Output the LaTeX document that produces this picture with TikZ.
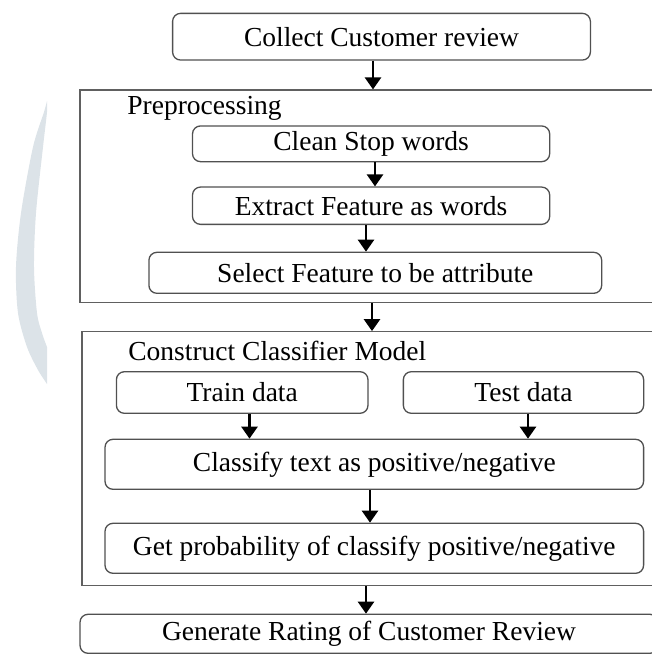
\documentclass[tikz,border=0pt]{standalone}
\usepackage{fontspec}
\setmainfont{Liberation Serif}
\usetikzlibrary{arrows.meta}
\definecolor{wmark}{HTML}{DCE3E8}
\definecolor{boxline}{HTML}{505050}
\definecolor{frameline}{HTML}{606060}
\tikzset{
  txt/.style={font=\fontsize{13.75}{16}\selectfont},
  box/.style={draw=boxline, line width=0.65pt, rounded corners=4pt, inner sep=0pt, txt},
  frame/.style={draw=frameline, line width=0.6pt},
  arr/.style={line width=1.3pt, -{Triangle[width=8pt,length=6pt]}},
}
\begin{document}
\begin{tikzpicture}[x=0.5pt,y=-0.5pt]
\useasboundingbox (0,0) rectangle (652,655);
\clip (0,0) rectangle (652,655);
% watermark crescent
\fill[wmark] plot[smooth] coordinates {(47,101) (44,112) (33,147) (21,213) (16,267) (18,313) (27,347) (38,370) (47,384)}
  -- plot[smooth] coordinates {(47,347) (42,333) (37,313) (34,267) (36,213) (43,147) (47,112) (47,101)} -- cycle;
% frames
\node[frame, rectangle, minimum width=291pt, minimum height=106.35pt, inner sep=0pt] (pre) at (371,196.35) {};
\node[frame, rectangle, minimum width=290pt, minimum height=127pt, inner sep=0pt] (con) at (372,458.7) {};
\node[txt, anchor=west, inner sep=0pt] (prelabel) at (127,108) {Preprocessing};
\node[txt, anchor=west, inner sep=0pt] (conlabel) at (128,350.7) {Construct Classifier Model};
% boxes
\node[box, minimum width=208.9pt, minimum height=23.35pt] (collect) at (381.5,36.7) {Collect Customer review};
\node[box, minimum width=178.6pt, minimum height=17.85pt] (clean) at (371.1,143.8) {Clean Stop words};
\node[box, minimum width=178.6pt, minimum height=18.65pt] (extract) at (371.1,205.7) {Extract Feature as words};
\node[box, minimum width=226.4pt, minimum height=20.5pt] (select) at (375.3,272.8) {Select Feature to be attribute};
\node[box, minimum width=125.8pt, minimum height=20.8pt] (train) at (242.2,392.5) {Train data};
\node[box, minimum width=120.15pt, minimum height=20.8pt] (test) at (523.5,392.5) {Test data};
\node[box, minimum width=269.3pt, minimum height=25pt] (classify) at (374.3,464.3) {Classify text as positive/negative};
\node[box, minimum width=269.3pt, minimum height=25pt] (getprob) at (374.3,548.3) {Get probability of classify positive/negative};
\node[box, minimum width=289pt, minimum height=19.5pt] (generate) at (369,633.8) {Generate Rating of Customer Review};
% arrow x positions
\coordinate (xa) at (373,0);
\coordinate (xb) at (375,0);
\coordinate (xc) at (366,0);
\coordinate (xd) at (372,0);
\coordinate (xe) at (249.5,0);
\coordinate (xf) at (528,0);
\coordinate (xg) at (370,0);
\coordinate (xh) at (366,0);
% arrows
\draw[arr] (collect.south -| xa) -- (pre.north -| xa);
\draw[arr] (clean.south -| xb) -- (extract.north -| xb);
\draw[arr] (extract.south -| xc) -- (select.north -| xc);
\draw[arr] (pre.south -| xd) -- (con.north -| xd);
\draw[arr] (train.south -| xe) -- (classify.north -| xe);
\draw[arr] (test.south -| xf) -- (classify.north -| xf);
\draw[arr] (classify.south -| xg) -- (getprob.north -| xg);
\draw[arr] (con.south -| xh) -- (generate.north -| xh);
\end{tikzpicture}
\end{document}
